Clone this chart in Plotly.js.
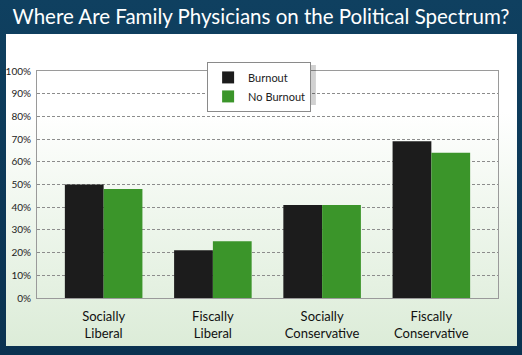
<!DOCTYPE html>
<html>
<head>
<meta charset="utf-8">
<script src="https://cdn.plot.ly/plotly-3.0.1.min.js"></script>
<style>
  html, body { margin: 0; padding: 0; background: #0d3a58; }
  #wrap { position: relative; width: 522px; height: 355px; background: linear-gradient(#0f4060, #0a3250); overflow: hidden; }
  #panel { position: absolute; left: 6px; top: 34px; width: 511px; height: 312px;
           background: linear-gradient(#ffffff 0%, #ffffff 25%, #eef6ec 60%, #dcecd8 100%); }
  #chart { position: absolute; left: 0; top: 0; width: 522px; height: 355px; }
</style>
</head>
<body>
<div id="wrap"><div id="panel"></div><div id="chart"></div></div>
<script>
const categories = ["Socially<br>Liberal", "Fiscally<br>Liberal", "Socially<br>Conservative", "Fiscally<br>Conservative"];
const burnout = [50, 21, 41, 69];
const noBurnout = [48, 25, 41, 64];
const seriesNames = ["Burnout", "No Burnout"];
const yTicks = [0, 10, 20, 30, 40, 50, 60, 70, 80, 90, 100];
const yTickText = yTicks.map(v => v + "%");

const FONT = "Lato, 'Open Sans', sans-serif";

const traces = [
  { type: "bar", name: seriesNames[0], x: categories, y: burnout,
    marker: { color: "#1c1c1c", line: { width: 0 } }, hoverinfo: "y" },
  { type: "bar", name: seriesNames[1], x: categories, y: noBurnout,
    marker: { color: "#3b952a", line: { width: 0 } }, hoverinfo: "y" }
];

const layout = {
  width: 522, height: 355,
  paper_bgcolor: "rgba(0,0,0,0)", plot_bgcolor: "rgba(0,0,0,0)",
  margin: { l: 37, r: 24, t: 71, b: 57, autoexpand: false },
  font: { family: FONT, color: "#222" },
  title: { text: "Where Are Family Physicians on the Political Spectrum?",
           font: { family: FONT, size: 20.5, color: "#ffffff" },
           x: 0.5, xanchor: "center", xref: "container", y: 0.952, yanchor: "middle", yref: "container",
           automargin: false },
  barmode: "group", bargap: 0.29, bargroupgap: 0,
  showlegend: true,
  legend: { x: 0.369, y: 1.04, xanchor: "left", yanchor: "top", xref: "paper", yref: "paper",
            bgcolor: "#ffffff", bordercolor: "#8a8a8a", borderwidth: 1,
            font: { family: FONT, size: 11, color: "#222" }, traceorder: "normal",
            itemwidth: 30, tracegroupgap: 0 },
  xaxis: { type: "category", range: [-0.61, 3.61], showline: true, linecolor: "#9a9a9a", linewidth: 1,
           mirror: true, ticks: "", showgrid: false, fixedrange: true,
           tickfont: { family: FONT, size: 13, color: "#111" }, ticklabelstandoff: 6 },
  yaxis: { range: [0, 100], tickvals: yTicks, ticktext: yTickText, showline: true, linecolor: "#9a9a9a",
           linewidth: 1, mirror: true, showgrid: true, gridcolor: "#8c8c8c", griddash: "3px,2px", gridwidth: 1,
           zeroline: false, ticks: "", tickfont: { family: FONT, size: 10, color: "#222" },
           ticklabelstandoff: 3, fixedrange: true },
  shapes: [
    { type: "rect", xref: "paper", yref: "paper", x0: 0.375, x1: 0.605, y0: 0.850, y1: 1.026,
      fillcolor: "rgba(0,0,0,0.18)", line: { width: 0 }, layer: "above" }
  ]
};

Plotly.newPlot("chart", traces, layout, { staticPlot: true, displayModeBar: false });
</script>
</body>
</html>
